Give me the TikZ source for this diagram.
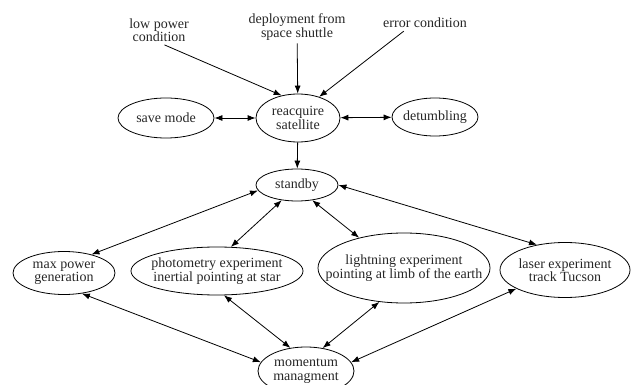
\documentclass[tikz,border=0pt]{standalone}
\usepackage{fontspec}
\setmainfont{Liberation Serif}
\usetikzlibrary{shapes.geometric,arrows.meta}
\tikzset{
  mode/.style={draw, ellipse, inner sep=0pt, line width=0.8pt},
  modetext/.style={align=center, inner sep=0pt, text=black!85,
    font=\fontsize{14}{13.5}\selectfont},
  cond/.style={align=center, inner sep=3pt, text=black!85,
    font=\fontsize{14}{13.5}\selectfont},
  trans/.style={-{Latex[length=8pt,width=6pt]}, line width=0.8pt},
  both/.style={{Latex[length=8pt,width=6pt]}-{Latex[length=8pt,width=6pt]}, line width=0.8pt}
}

\begin{document}
\begin{tikzpicture}[x=1pt,y=-1pt]
\useasboundingbox (0,0) rectangle (632,385);
% entry conditions
\node[cond] (lowpow) at (159,30) {low power\\condition};
\node[cond] (deploy) at (297,27) {deployment from\\space shuttle};
\node[cond] (error) at (425,23) {error condition};
% modes
\node[mode, minimum width=96, minimum height=40,
  label={[modetext]center:save mode}] (save) at (166,118) {};
\node[mode, minimum width=84, minimum height=48,
  label={[modetext]center:reacquire\\satellite}] (reacq) at (298,118) {};
\node[mode, minimum width=86, minimum height=38,
  label={[modetext]center:detumbling}] (detumb) at (435,117) {};
\node[mode, minimum width=82, minimum height=32,
  label={[modetext]center:standby}] (standby) at (297,185) {};
\node[mode, minimum width=102, minimum height=43,
  label={[modetext]center:max power\\generation}] (maxpow) at (64,273) {};
\node[mode, minimum width=172, minimum height=48,
  label={[modetext]center:photometry experiment\\inertial pointing at star}] (photo) at (217,271) {};
\node[mode, minimum width=172, minimum height=70,
  label={[modetext]center:lightning experiment\\pointing at limb of the earth}] (light) at (404,268) {};
\node[mode, minimum width=130, minimum height=55,
  label={[modetext]center:laser experiment\\track Tucson}] (laser) at (565,270) {};
\node[mode, minimum width=96, minimum height=48,
  label={[modetext]center:momentum\\managment}] (moment) at (306,371) {};
% transitions
\draw[trans] (lowpow.290) -- (reacq.126);
\draw[trans] (deploy) -- (reacq);
\draw[trans] (error.201) -- (reacq.45);
\draw[both] (save) -- (reacq);
\draw[both] (reacq) -- (detumb);
\draw[trans] (reacq) -- (standby);
\draw[both] (standby.188) -- (maxpow.34);
\draw[both] (standby.225) -- (photo.60);
\draw[both] (standby.315) -- (light.146);
\draw[both] (standby.east) -- (laser.138);
\draw[both] (maxpow.311) -- (moment.169);
\draw[both] (photo.286) -- (moment.124);
\draw[both] (light.234) -- (moment.54);
\draw[both] (laser.201) -- (moment.11);
\end{tikzpicture}
\end{document}
